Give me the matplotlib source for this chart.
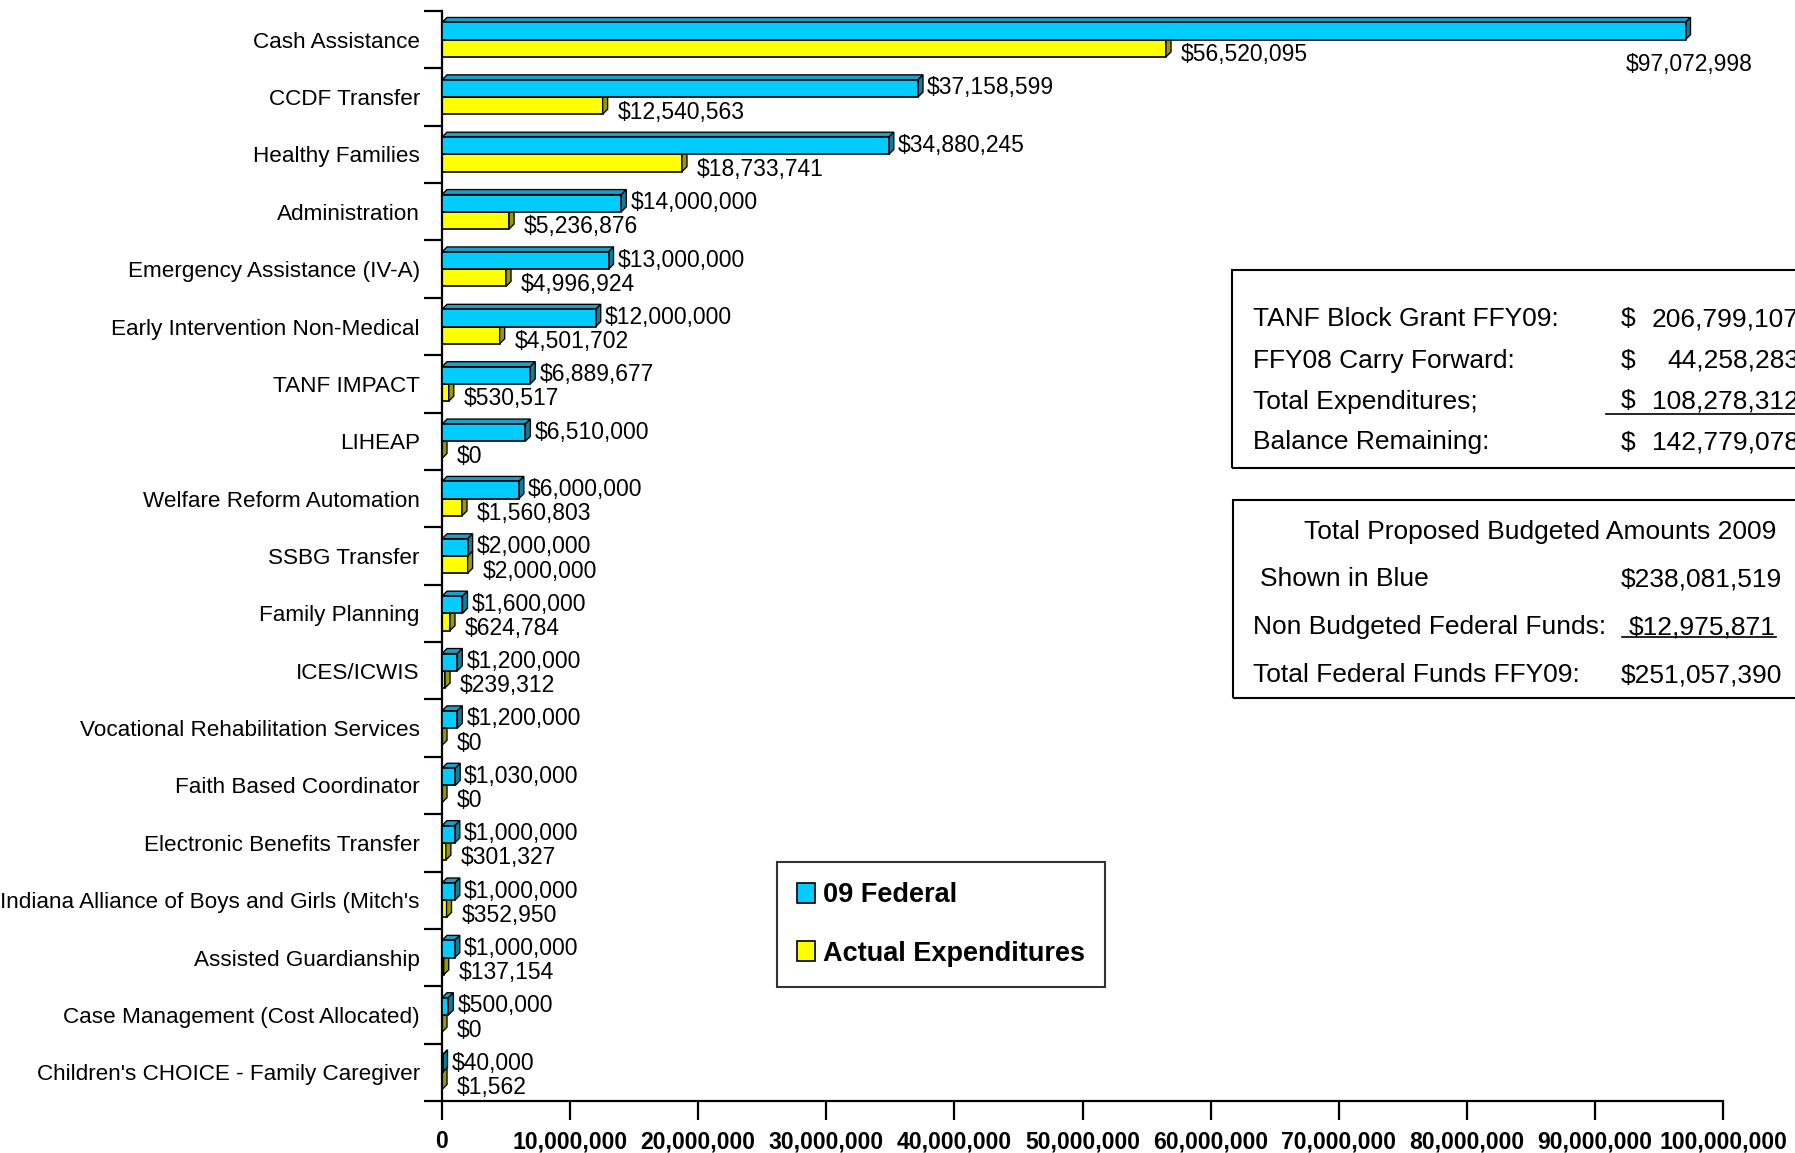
import matplotlib
matplotlib.use('Agg')
import matplotlib.pyplot as plt
from matplotlib.patches import Polygon, Rectangle, Patch
from matplotlib.lines import Line2D

plt.rcParams['font.family'] = ['Liberation Sans', 'DejaVu Sans']

# ---------------- data ----------------
categories = ["Cash Assistance", "CCDF Transfer", "Healthy Families", "Administration",
              "Emergency Assistance (IV-A)", "Early Intervention Non-Medical", "TANF IMPACT",
              "LIHEAP", "Welfare Reform Automation", "SSBG Transfer", "Family Planning",
              "ICES/ICWIS", "Vocational Rehabilitation Services", "Faith Based Coordinator",
              "Electronic Benefits Transfer", "Indiana Alliance of Boys and Girls (Mitch's",
              "Assisted Guardianship", "Case Management (Cost Allocated)",
              "Children's CHOICE - Family Caregiver"]
federal_09 = [97072998, 37158599, 34880245, 14000000, 13000000, 12000000, 6889677, 6510000,
              6000000, 2000000, 1600000, 1200000, 1200000, 1030000, 1000000, 1000000,
              1000000, 500000, 40000]
actual_exp = [56520095, 12540563, 18733741, 5236876, 4996924, 4501702, 530517, 0,
              1560803, 2000000, 624784, 239312, 0, 0, 301327, 352950, 137154, 0, 1562]
series_names = ["09 Federal", "Actual Expenditures"]
x_ticks = [0, 10000000, 20000000, 30000000, 40000000, 50000000, 60000000, 70000000,
           80000000, 90000000, 100000000]
x_tick_labels = ["0", "10,000,000", "20,000,000", "30,000,000", "40,000,000", "50,000,000",
                 "60,000,000", "70,000,000", "80,000,000", "90,000,000", "100,000,000"]

box1_labels = ["TANF Block Grant FFY09:", "FFY08 Carry Forward:", "Total Expenditures;",
               "Balance Remaining:"]
box1_values = ["206,799,107", "44,258,283", "108,278,312", "142,779,078"]
box2_title = "Total Proposed Budgeted Amounts 2009"
box2_labels = ["Shown in Blue", "Non Budgeted Federal Funds:", "Total Federal Funds FFY09:"]
box2_values = ["$238,081,519", "$12,975,871", "$251,057,390"]

# ---------------- style ----------------
W, H = 1795, 1153
BLUE, BLUE_TOP, BLUE_SIDE = '#00CCFF', '#1AA0C8', '#0D7F9A'
YEL, YEL_SIDE = '#FFFF00', '#999900'
EDGE_LW = 1.2


def fx(px):
    return px / W


def fy(py):
    return 1 - py / H


fig = plt.figure(figsize=(W / 100, H / 100), dpi=100)
ax = fig.add_axes([fx(442), fy(1101), (1723 - 442) / W, (1101 - 11) / H])
n = len(categories)
ax.set_xlim(0, 100000000)
ax.set_ylim(n - 0.5, -0.5)

# pixel -> data conversion for 3D depth
p0 = ax.transData.transform((0, 0))
p1 = ax.transData.transform((1, 1))
px_x = p1[0] - p0[0]
px_y = p0[1] - p1[1]
dx = 5 / px_x
dy = 5 / px_y

ypos = list(range(n))
h = 0.3
blue_c = [i - h / 2 for i in ypos]
yel_c = [i + h / 2 for i in ypos]

# yellow bars
ax.barh(yel_c, actual_exp, height=h, color=YEL, edgecolor='black', linewidth=EDGE_LW, zorder=2)
for i, v in zip(ypos, actual_exp):
    side = Polygon([(v, i), (v, i + h), (v + dx, i + h - dy), (v + dx, i - dy)],
                   closed=True, fc=YEL_SIDE, ec='black', lw=EDGE_LW * 0.8, zorder=2.5)
    ax.add_patch(side)

# blue bars
for i, v in zip(ypos, federal_09):
    yt = i - h
    top = Polygon([(0, yt), (v, yt), (v + dx, yt - dy), (dx, yt - dy)],
                  closed=True, fc=BLUE_TOP, ec='black', lw=EDGE_LW * 0.8, zorder=3)
    side = Polygon([(v, yt), (v, i), (v + dx, i - dy), (v + dx, yt - dy)],
                   closed=True, fc=BLUE_SIDE, ec='black', lw=EDGE_LW * 0.8, zorder=3)
    ax.add_patch(top)
    ax.add_patch(side)
ax.barh(blue_c, federal_09, height=h, color=BLUE, edgecolor='black', linewidth=EDGE_LW, zorder=4)

# data labels
LBL = 16.5
PT = 0.72
for i, v in enumerate(federal_09):
    txt = "${:,}".format(v)
    if v > 0.9 * 100000000:
        ax.annotate(txt, (v, yel_c[i]), xytext=(4 * PT, -16 * PT), textcoords='offset points',
                    ha='center', va='center', fontsize=LBL, zorder=6, annotation_clip=False)
    else:
        ax.annotate(txt, (v, blue_c[i]), xytext=(9 * PT, 0.5 * PT), textcoords='offset points',
                    ha='left', va='center', fontsize=LBL, zorder=6, annotation_clip=False)
for i, v in enumerate(actual_exp):
    txt = "${:,}".format(v)
    ax.annotate(txt, (v, yel_c[i]), xytext=(15 * PT, -6.5 * PT), textcoords='offset points',
                ha='left', va='center', fontsize=LBL, zorder=6, annotation_clip=False)

# axes styling
for s in ['top', 'right']:
    ax.spines[s].set_visible(False)
for s in ['left', 'bottom']:
    ax.spines[s].set_linewidth(1.6)
ax.set_yticks(ypos)
ax.set_yticklabels(categories, fontsize=16.2)
ax.tick_params(axis='y', which='major', length=0, pad=16)
ax.set_yticks([i - 0.5 for i in range(n + 1)], minor=True)
ax.tick_params(axis='y', which='minor', length=13, width=1.6, direction='out')
ax.set_xticks(x_ticks)
ax.set_xticklabels(x_tick_labels, fontsize=16.6, fontweight='bold')
ax.tick_params(axis='x', length=14, width=1.6, direction='out', pad=7)

# legend
handles = [Patch(facecolor=BLUE, edgecolor='black', linewidth=1.2),
           Patch(facecolor=YEL, edgecolor='black', linewidth=1.2)]
leg = fig.legend(handles, series_names, loc='upper left',
                 bbox_to_anchor=(fx(777), fy(862)), borderaxespad=0,
                 prop={'weight': 'bold', 'size': 19.5}, frameon=True, fancybox=False,
                 borderpad=0.75, labelspacing=1.2, handlelength=0.65, handleheight=0.75,
                 handletextpad=0.3)
leg.get_frame().set_edgecolor('black')
leg.get_frame().set_linewidth(1.5)

# text boxes
TFS = 19
fig.patches.append(Rectangle((fx(1232), fy(468)), (1820 - 1232) / W, (468 - 270) / H,
                             transform=fig.transFigure, fill=False, ec='black', lw=1.5))
for k, (lab, val) in enumerate(zip(box1_labels, box1_values)):
    yy = [319.5, 360.5, 401.5, 442.5][k]
    fig.text(fx(1253), fy(yy), lab, fontsize=TFS, va='center', ha='left')
    fig.text(fx(1621), fy(yy), "$", fontsize=TFS, va='center', ha='left')
    fig.text(fx(1799), fy(yy), val, fontsize=TFS, va='center', ha='right')
fig.lines.append(Line2D([fx(1606), fx(1800)], [fy(414), fy(414)], transform=fig.transFigure,
                        color='black', lw=1.2))

fig.patches.append(Rectangle((fx(1233), fy(698)), (1820 - 1233) / W, (698 - 500) / H,
                             transform=fig.transFigure, fill=False, ec='black', lw=1.5))
fig.text(fx(1304), fy(531.5), box2_title, fontsize=TFS, va='center', ha='left')
for k, (lab, val) in enumerate(zip(box2_labels, box2_values)):
    yy = [579.5, 627.5, 675.5][k]
    xl = [1260, 1253, 1253][k]
    xv = [1621, 1629, 1621][k]
    fig.text(fx(xl), fy(yy), lab, fontsize=TFS, va='center', ha='left')
    fig.text(fx(xv), fy(yy), val, fontsize=TFS, va='center', ha='left')
fig.lines.append(Line2D([fx(1622), fx(1776)], [fy(637), fy(637)], transform=fig.transFigure,
                        color='black', lw=1.2))

fig.savefig('out.png', dpi=100)
